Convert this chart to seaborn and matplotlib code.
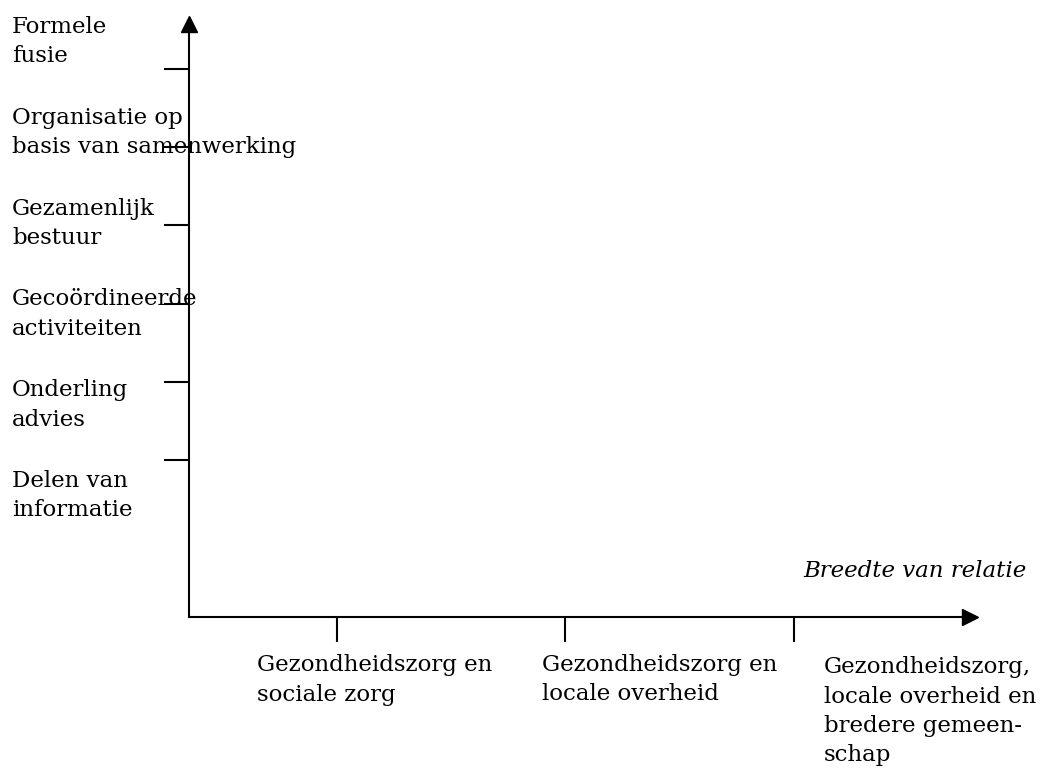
import matplotlib

matplotlib.use("Agg")
import matplotlib.pyplot as plt
import seaborn as sns

# Vertical axis: depth of the relationship, bottom to top.
DEPTH_LEVELS = [1, 2, 3, 4, 5, 6]
DEPTH_LABELS = [
    "Delen van\ninformatie",
    "Onderling\nadvies",
    "Gecoördineerde\nactiviteiten",
    "Gezamenlijk\nbestuur",
    "Organisatie op\nbasis van samenwerking",
    "Formele\nfusie",
]

# Horizontal axis: breadth of the relationship, left to right.
BREADTH_LEVELS = [1, 2, 3]
BREADTH_LABELS = [
    "Gezondheidszorg en\nsociale zorg",
    "Gezondheidszorg en\nlocale overheid",
    "Gezondheidszorg,\nlocale overheid en\nbredere gemeen-\nschap",
]
X_TITLE = "Breedte van relatie"

W, H = 1042, 769
FONT_SIZE = 16.5
LINE_SPACING = 1.44
LINE_PX = 30.5  # distance between baselines in the reference


def put_text(fig, x_px, first_baseline_px, label, **kw):
    # matplotlib aligns "baseline" on the last line of a multi-line text
    n = label.count("\n")
    y_px = first_baseline_px + LINE_PX * n
    fig.text(x_px / W, 1 - y_px / H, label, va="baseline",
             linespacing=LINE_SPACING, color="black", **kw)


def main() -> int:
    sns.set_theme(style="white")
    plt.rcParams["font.family"] = ["DejaVu Serif"]
    plt.rcParams["font.size"] = FONT_SIZE

    fig = plt.figure(figsize=(W / 100, H / 100), dpi=100)
    ax = fig.add_axes([189 / W, 1 - 617 / H, (970 - 189) / W, (617 - 24) / H])
    ax.set_xlim(0.353, 3.77)
    ax.set_ylim(-1.0, 6.57)

    ax.set_xticks(BREADTH_LEVELS, [""] * len(BREADTH_LEVELS))
    ax.set_yticks(DEPTH_LEVELS, [""] * len(DEPTH_LEVELS))
    ax.tick_params(axis="both", direction="out", length=18, width=1.5,
                   color="black", bottom=True, left=True)
    sns.despine(ax=ax)
    for side in ("left", "bottom"):
        ax.spines[side].set_color("black")
        ax.spines[side].set_linewidth(1.5)

    # arrow heads at the ends of both axes
    x0, x1 = ax.get_xlim()
    y0, y1 = ax.get_ylim()
    ax.plot([x0], [y1], marker="^", ms=12, color="black", clip_on=False)
    ax.plot([x1], [y0], marker=">", ms=12, color="black", clip_on=False)

    # level labels on the vertical axis, evenly stacked
    for i, label in enumerate(DEPTH_LABELS):
        put_text(fig, 12, 486 - 90.8 * i, label, ha="left")

    # category labels under the horizontal axis
    for x_px, label in zip([257, 542, 824], BREADTH_LABELS):
        put_text(fig, x_px, 670, label, ha="left")

    put_text(fig, 1027, 577, X_TITLE, ha="right", style="italic")

    fig.savefig("out.png", dpi=100)
    plt.close(fig)
    return 0


if __name__ == "__main__":
    raise SystemExit(main())
